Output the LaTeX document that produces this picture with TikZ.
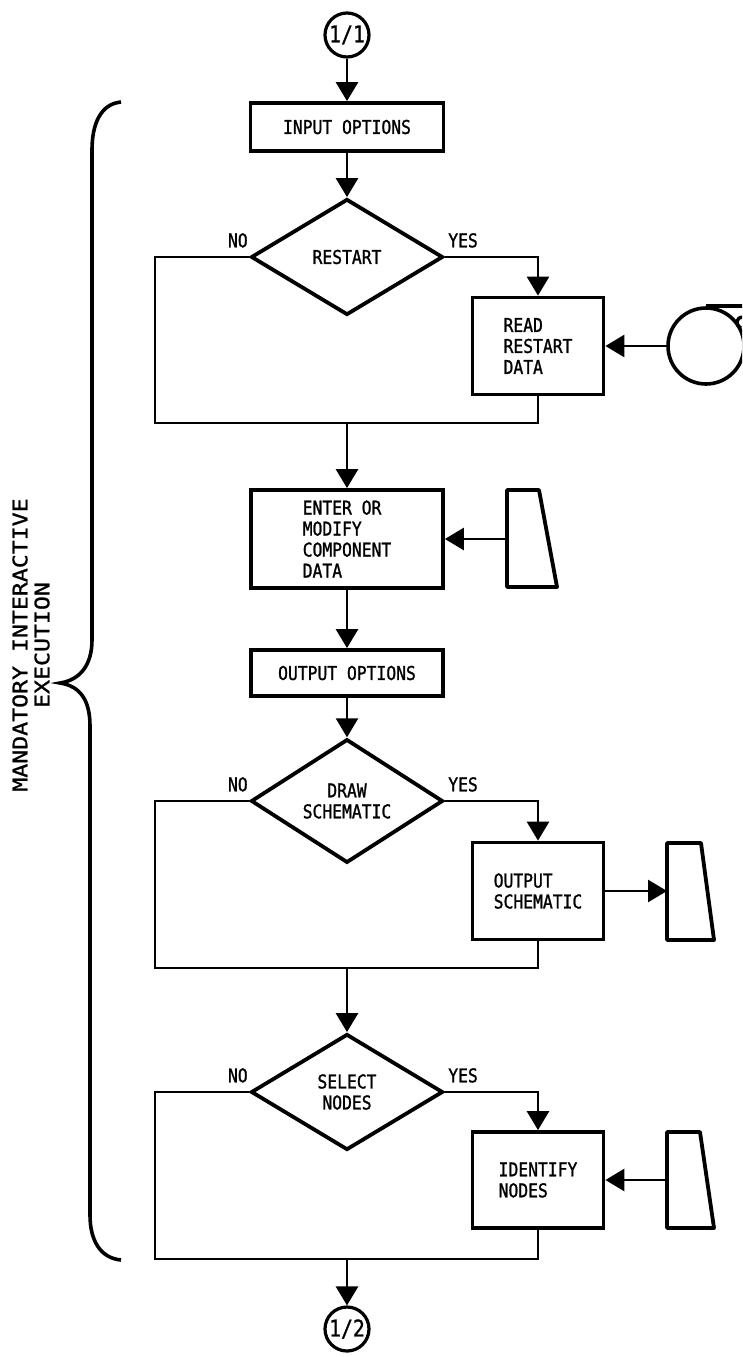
\documentclass[tikz,border=0pt]{standalone}
\usepackage{fontspec}
\setmonofont[FakeStretch=0.86,FakeBold=1.2]{DejaVu Sans Mono}
\newfontfamily\bracefamily[FakeStretch=1.16,FakeBold=1.2]{DejaVu Sans Mono}
\usetikzlibrary{arrows.meta,shapes.geometric}
\newcommand\flowfont{\ttfamily\fontsize{19}{21}\selectfont}

\begin{document}
\begin{tikzpicture}[x=1pt,y=-1pt,->,>={Triangle[length=19pt,width=22pt]},line width=2.8pt,node distance=130pt,
    box/.style={rectangle,draw,line width=3.8pt,inner sep=0pt,font=\flowfont},
    decide/.style={diamond,draw,line width=3.8pt,minimum width=192pt,minimum height=116pt,inner sep=0pt,align=center,font=\flowfont},
    conn/.style={circle,draw,line width=3.2pt,minimum size=44pt,inner sep=0pt,font=\ttfamily\fontsize{23}{25}\selectfont},
    lbl/.style={inner sep=0pt,font=\flowfont}]
            \useasboundingbox (0,0) rectangle (742,1357);
            \clip (0,0) rectangle (742,1357);

            \node [conn](c1) at (347,35) {1/1};
            \node [box, minimum width=193pt, minimum height=48pt](inp) [below of=c1, yshift=38pt]{INPUT OPTIONS};
            \node [decide](rst) [below of=inp]{RESTART};
            \node [box, minimum width=131pt, minimum height=97pt, align=left](rrd) [right of=rst, xshift=61pt, yshift=-89pt]{READ\\RESTART\\DATA};
            \node [circle, draw, line width=3.6pt, minimum size=76pt](tp) [right of=rrd, xshift=38pt]{};
            \node [box, minimum width=192pt, minimum height=98pt, align=left](ent) [below of=rst, yshift=-152pt]{ENTER OR\\MODIFY\\COMPONENT\\DATA};
            \node [box, minimum width=192pt, minimum height=46pt](oo) [below of=ent, yshift=-4pt]{OUTPUT OPTIONS};
            \node [decide](dr) [below of=oo, yshift=2pt]{DRAW\\SCHEMATIC};
            \node [box, minimum width=131pt, minimum height=97pt, align=left](ods) [right of=dr, xshift=61pt, yshift=-90pt]{OUTPUT\\SCHEMATIC};
            \node [decide](sel) [below of=dr, yshift=-161pt]{SELECT\\NODES};
            \node [box, minimum width=131pt, minimum height=96pt, align=left](idn) [right of=sel, xshift=61pt, yshift=-88pt]{IDENTIFY\\NODES};
            \node [conn](c2) [below of=sel, yshift=-107pt]{1/2};

            % joins under the loops, device inputs
            \coordinate (j1) at (347,423);
            \coordinate (j2) at (347,968);
            \coordinate (j3) at (347,1259);
            \coordinate (k1) at (507,539);
            \coordinate (k2) at (667,891);
            \coordinate (k3) at (667,1180);

            % terminals
            \draw[-, line width=3.8pt, line join=round] (507,490) -- (539,490) -- (557,587) -- (507,587) -- cycle;
            \draw[-, line width=3.8pt, line join=round] (667,843) -- (701,843) -- (714,940) -- (667,940) -- cycle;
            \draw[-, line width=3.8pt, line join=round] (667,1132) -- (700,1132) -- (714,1228) -- (667,1228) -- cycle;

            % tape reel
            \draw[-, line width=3.6pt] (tp.north) -- ++(45,0);
            \draw[-, line width=3.4pt] (744,317) .. controls (735,317) and (735,325) .. (741,328);

            % yes / no branches
            \node [lbl, anchor=south east](no1) at ([yshift=8pt]rst.west){NO};
            \node [lbl, anchor=south west](yes1) at ([xshift=2pt, yshift=8pt]rst.east){YES};
            \node [lbl, anchor=south east](no2) at ([yshift=8pt]dr.west){NO};
            \node [lbl, anchor=south west](yes2) at ([xshift=2pt, yshift=8pt]dr.east){YES};
            \node [lbl, anchor=south east](no3) at ([yshift=8pt]sel.west){NO};
            \node [lbl, anchor=south west](yes3) at ([xshift=2pt, yshift=8pt]sel.east){YES};

            \draw (rst.east) -| (rrd.north);
            \draw (dr.east) -| (ods.north);
            \draw (sel.east) -| (idn.north);
            \draw[-] (rst.west) -- (155,257) |- (j1) -| (rrd.south);
            \draw[-] (dr.west) -- (155,801) |- (j2) -| (ods.south);
            \draw[-] (sel.west) -- (155,1092) |- (j3) -| (idn.south);

            \path
                (c1) edge (inp)
                (inp) edge (rst)
                (j1) edge (ent)
                (ent) edge (oo)
                (oo) edge (dr)
                (j2) edge (sel)
                (j3) edge (c2)
                (tp) edge (rrd)
                (k1) edge (ent)
                (ods) edge (k2)
                (k3) edge (idn)
                ;

            % brace
            \draw[-, line width=3.6pt] (121,102) .. controls (100,104) and (92,125) .. (92,150) -- (92,640)
                .. controls (92,665) and (80,680) .. (60,683) .. controls (80,686) and (90,700) .. (90,726)
                -- (90,1215) .. controls (90,1240) and (100,1258) .. (121,1260);
            \node [inner sep=0pt, rotate=90, align=center, font=\bracefamily\fontsize{20}{22}\selectfont](mie) at (31,645){MANDATORY INTERACTIVE\\EXECUTION};
        \end{tikzpicture}
\end{document}
